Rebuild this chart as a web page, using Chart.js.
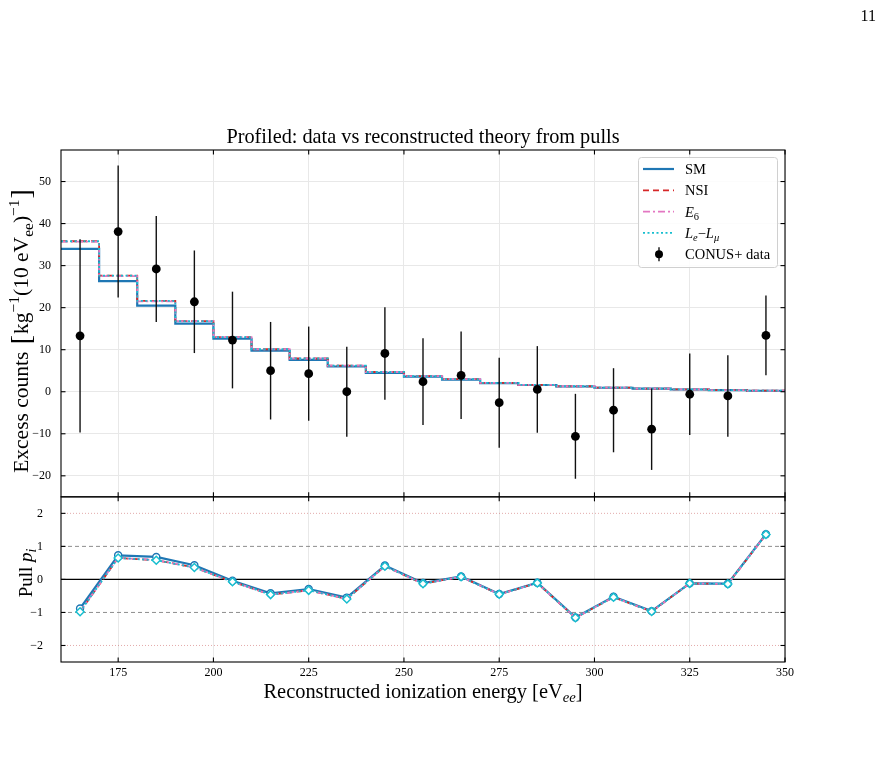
<!DOCTYPE html>
<html>
<head>
<meta charset="utf-8">
<script src="https://cdn.jsdelivr.net/npm/chart.js@4.4.1/dist/chart.umd.min.js"></script>
<style>
  html, body { margin: 0; padding: 0; background: #fff; }
</style>
</head>
<body>
<canvas id="pullChart" width="882" height="764"></canvas>
<script>
// 10 eVee bins, left edges + final right edge
const binEdges = [160, 170, 180, 190, 200, 210, 220, 230, 240, 250, 260, 270, 280, 290, 300, 310, 320, 330, 340, 350];
const binCenters = [165, 175, 185, 195, 205, 215, 225, 235, 245, 255, 265, 275, 285, 295, 305, 315, 325, 335, 345];

// reconstructed theory (excess counts per bin)
const smCounts    = [34.0, 26.3, 20.5, 16.2, 12.6, 9.8, 7.6, 6.0, 4.5, 3.6, 2.9, 2.05, 1.6, 1.25, 0.95, 0.72, 0.53, 0.38, 0.24];
const nsiCounts   = [35.8, 27.6, 21.6, 16.8, 13.0, 10.1, 7.9, 6.2, 4.7, 3.7, 3.0, 2.1, 1.65, 1.3, 1.0, 0.75, 0.55, 0.4, 0.25];
const e6Counts    = [35.7, 27.5, 21.5, 16.8, 13.0, 10.1, 7.9, 6.2, 4.7, 3.7, 3.0, 2.1, 1.65, 1.3, 1.0, 0.75, 0.55, 0.4, 0.25];
const lelmuCounts = [35.8, 27.6, 21.6, 16.8, 13.0, 10.1, 7.9, 6.2, 4.7, 3.7, 3.0, 2.1, 1.65, 1.3, 1.0, 0.75, 0.55, 0.4, 0.25];

// CONUS+ data points and 1 sigma errors
const dataCounts = [13.3, 38.1, 29.2, 21.4, 12.3, 5.0, 4.3, 0.0, 9.1, 2.4, 3.9, -2.6, 0.55, -10.6, -4.4, -8.9, -0.6, -1.0, 13.4];
const dataErrors = [23.0, 15.7, 12.6, 12.2, 11.5, 11.6, 11.2, 10.7, 11.0, 10.3, 10.4, 10.7, 10.3, 10.1, 10.0, 9.7, 9.7, 9.7, 9.5];

// pulls p_i
const smPulls    = [-0.88, 0.73, 0.68, 0.43, -0.04, -0.42, -0.29, -0.55, 0.42, -0.11, 0.09, -0.44, -0.10, -1.15, -0.52, -0.96, -0.12, -0.13, 1.37];
const nsiPulls   = [-0.98, 0.65, 0.58, 0.36, -0.07, -0.46, -0.33, -0.59, 0.40, -0.13, 0.08, -0.45, -0.11, -1.16, -0.54, -0.97, -0.12, -0.14, 1.36];
const e6Pulls    = [-0.97, 0.65, 0.59, 0.36, -0.07, -0.46, -0.33, -0.59, 0.40, -0.13, 0.08, -0.45, -0.11, -1.16, -0.54, -0.97, -0.12, -0.14, 1.36];
const lelmuPulls = [-0.98, 0.65, 0.58, 0.36, -0.07, -0.46, -0.33, -0.59, 0.40, -0.13, 0.08, -0.45, -0.11, -1.16, -0.54, -0.97, -0.12, -0.14, 1.36];

// tick values
const xTicks = [175, 200, 225, 250, 275, 300, 325, 350];
const countTicks = [-20, -10, 0, 10, 20, 30, 40, 50];
const pullTicks = [-2, -1, 0, 1, 2];
const pullGuides = [1, 2];

const SERIF = "'Liberation Serif', 'DejaVu Serif', serif";
const MINUS = '\u2212';

function stepPoints(values) {
    const pts = values.map((v, i) => ({ x: binEdges[i], y: v }));
    pts.push({ x: binEdges[binEdges.length - 1], y: values[values.length - 1] });
    return pts;
}
function points(values) {
    return values.map((v, i) => ({ x: binCenters[i], y: v }));
}
function tickText(v) {
    return v < 0 ? MINUS + Math.abs(v) : String(v);
}
function fixedTicks(list) {
    return s => { s.ticks = list.map(v => ({ value: v })); };
}

// draw text made of parts: {t, i (italic), sub, sup, big, gap}
function drawRich(ctx, parts, x, y, size, align) {
    const fontFor = p => {
        let s = size;
        if (p.sub || p.sup) s = size * 0.72;
        if (p.big) s = size * 1.3;
        return (p.i ? 'italic ' : '') + s + 'px ' + SERIF;
    };
    let total = 0;
    const widths = parts.map(p => {
        ctx.font = fontFor(p);
        const w = ctx.measureText(p.t).width + (p.gap || 0);
        total += w;
        return w;
    });
    let cx = x;
    if (align === 'center') cx = x - total / 2;
    if (align === 'right') cx = x - total;
    ctx.textAlign = 'left';
    ctx.textBaseline = 'alphabetic';
    parts.forEach((p, k) => {
        ctx.font = fontFor(p);
        let dy = 0;
        if (p.sub) dy = size * 0.22;
        if (p.sup) dy = -size * 0.42;
        if (p.big) dy = size * 0.08;
        ctx.fillText(p.t, cx, y + dy);
        cx += widths[k];
    });
}

function line(ctx, x1, y1, x2, y2) {
    ctx.beginPath();
    ctx.moveTo(x1, y1);
    ctx.lineTo(x2, y2);
    ctx.stroke();
}

// error bars under the data dots
const errorBars = {
    id: 'errorBars',
    beforeDatasetDraw(chart, args) {
        if (chart.data.datasets[args.index].label !== 'CONUS+ data') return;
        const { ctx, scales } = chart;
        ctx.save();
        ctx.strokeStyle = '#111';
        ctx.lineWidth = 1.4;
        binCenters.forEach((c, i) => {
            const px = scales.x.getPixelForValue(c);
            line(ctx, px, scales.y.getPixelForValue(dataCounts[i] + dataErrors[i]),
                px, scales.y.getPixelForValue(dataCounts[i] - dataErrors[i]));
        });
        ctx.restore();
    }
};

// reference lines in the pull panel
const pullLines = {
    id: 'pullLines',
    beforeDatasetsDraw(chart) {
        const { ctx, chartArea: a, scales } = chart;
        const ys = scales.yPull;
        ctx.save();
        pullGuides.forEach(g => {
            [g, -g].forEach(v => {
                const py = ys.getPixelForValue(v);
                if (g === 1) {
                    ctx.strokeStyle = '#808080';
                    ctx.lineWidth = 0.9;
                    ctx.setLineDash([4, 3]);
                } else {
                    ctx.strokeStyle = 'rgba(190,60,60,0.55)';
                    ctx.lineWidth = 0.8;
                    ctx.setLineDash([1, 2]);
                }
                line(ctx, a.left, py, a.right, py);
            });
        });
        ctx.setLineDash([]);
        ctx.strokeStyle = '#000';
        ctx.lineWidth = 1.2;
        const p0 = ys.getPixelForValue(0);
        line(ctx, a.left, p0, a.right, p0);
        ctx.restore();
    }
};

// frames, inward ticks, labels, legend
const decorations = {
    id: 'decorations',
    afterDraw(chart) {
        const { ctx, chartArea: a, scales, data } = chart;
        const xs = scales.x;
        ctx.save();
        ctx.strokeStyle = '#000';
        ctx.lineWidth = 1.1;
        [scales.y, scales.yPull].forEach(ys => {
            ctx.strokeRect(a.left, ys.top, a.right - a.left, ys.bottom - ys.top);
            ys.ticks.forEach(t => {
                const py = ys.getPixelForValue(t.value);
                line(ctx, a.left, py, a.left + 4.5, py);
                line(ctx, a.right - 4.5, py, a.right, py);
            });
            xs.ticks.forEach(t => {
                const px = xs.getPixelForValue(t.value);
                line(ctx, px, ys.top, px, ys.top + 4.5);
                line(ctx, px, ys.bottom - 4.5, px, ys.bottom);
            });
        });

        ctx.fillStyle = '#000';
        const cx = (a.left + a.right) / 2;
        drawRich(ctx, [{ t: 'Profiled: data vs reconstructed theory from pulls' }], cx, a.top - 7, 20.3, 'center');
        drawRich(ctx, [{ t: 'Reconstructed ionization energy [eV' }, { t: 'ee', i: 1, sub: 1 }, { t: ']' }],
            cx, a.bottom + 36, 20.4, 'center');
        drawRich(ctx, [{ t: '11' }], 876, 21, 16, 'right');

        ctx.save();
        ctx.translate(28, 331);
        ctx.rotate(-Math.PI / 2);
        drawRich(ctx, [{ t: 'Excess counts ', gap: 2 }, { t: '[', big: 1, gap: 1 }, { t: 'kg' }, { t: MINUS + '1', sup: 1 },
            { t: '(10 eV' }, { t: 'ee', sub: 1 }, { t: ')' }, { t: MINUS + '1', sup: 1, gap: 1 }, { t: ']', big: 1 }],
            0, 0, 21.5, 'center');
        ctx.restore();
        ctx.save();
        ctx.translate(32, 573);
        ctx.rotate(-Math.PI / 2);
        drawRich(ctx, [{ t: 'Pull ' }, { t: 'p', i: 1 }, { t: 'i', i: 1, sub: 1 }], 0, 0, 19, 'center');
        ctx.restore();

        // legend
        const bw = 139, bh = 110;
        const bx = a.right - 8 - bw, by = a.top + 7;
        ctx.fillStyle = 'rgba(255,255,255,0.85)';
        ctx.strokeStyle = '#d0d0d0';
        ctx.lineWidth = 1;
        ctx.beginPath();
        ctx.roundRect(bx + 0.5, by + 0.5, bw, bh, 3);
        ctx.fill();
        ctx.stroke();
        const entries = [
            { ds: 0, text: [{ t: 'SM' }] },
            { ds: 1, text: [{ t: 'NSI' }] },
            { ds: 2, text: [{ t: 'E', i: 1 }, { t: '6', sub: 1 }] },
            { ds: 3, text: [{ t: 'L', i: 1 }, { t: 'e', i: 1, sub: 1 }, { t: MINUS }, { t: 'L', i: 1 }, { t: '\u03bc', i: 1, sub: 1 }] },
            { ds: 4, text: [{ t: 'CONUS+ data' }] }
        ];
        entries.forEach((e, k) => {
            const ry = by + 12 + k * 21.3;
            const d = data.datasets[e.ds];
            if (e.ds < 4) {
                ctx.strokeStyle = d.borderColor;
                ctx.lineWidth = d.borderWidth;
                ctx.setLineDash(d.borderDash || []);
                line(ctx, bx + 5, ry, bx + 36, ry);
                ctx.setLineDash([]);
            } else {
                ctx.strokeStyle = '#111';
                ctx.lineWidth = 1.4;
                line(ctx, bx + 21, ry - 7, bx + 21, ry + 7);
                ctx.fillStyle = '#000';
                ctx.beginPath();
                ctx.arc(bx + 21, ry, 4, 0, Math.PI * 2);
                ctx.fill();
            }
            ctx.fillStyle = '#000';
            drawRich(ctx, e.text, bx + 47, ry + 5, 14.5, 'left');
        });
        ctx.restore();
    }
};

const tickFont = { family: SERIF, size: 12 };

new Chart(document.getElementById('pullChart'), {
    type: 'line',
    data: {
        datasets: [
            { label: 'SM', data: stepPoints(smCounts), yAxisID: 'y', stepped: true, borderColor: '#1f77b4', borderWidth: 2.2, pointRadius: 0, order: 6 },
            { label: 'NSI', data: stepPoints(nsiCounts), yAxisID: 'y', stepped: true, borderColor: '#d62728', borderWidth: 1.8, borderDash: [6, 4], pointRadius: 0, order: 5 },
            { label: 'E6', data: stepPoints(e6Counts), yAxisID: 'y', stepped: true, borderColor: '#e377c2', borderWidth: 1.8, borderDash: [7, 3, 2, 3], pointRadius: 0, order: 4 },
            { label: 'LeLmu', data: stepPoints(lelmuCounts), yAxisID: 'y', stepped: true, borderColor: '#17becf', borderWidth: 1.8, borderDash: [2, 2.5], pointRadius: 0, order: 3 },
            { label: 'CONUS+ data', data: points(dataCounts), yAxisID: 'y', showLine: false, pointRadius: 4.4, pointBackgroundColor: '#000', pointBorderWidth: 0, order: 0 },
            { label: 'SM pull', data: points(smPulls), yAxisID: 'yPull', borderColor: '#1f77b4', borderWidth: 2.2, pointRadius: 3.5, pointBackgroundColor: '#fff', pointBorderColor: '#1f77b4', pointBorderWidth: 1.4, order: 9 },
            { label: 'NSI pull', data: points(nsiPulls), yAxisID: 'yPull', borderColor: '#d62728', borderWidth: 1.8, borderDash: [6, 4], pointRadius: 0, order: 8 },
            { label: 'E6 pull', data: points(e6Pulls), yAxisID: 'yPull', borderColor: '#e377c2', borderWidth: 1.8, borderDash: [7, 3, 2, 3], pointRadius: 0, order: 7 },
            { label: 'LeLmu pull', data: points(lelmuPulls), yAxisID: 'yPull', borderColor: '#17becf', borderWidth: 1.8, borderDash: [2, 2.5], pointStyle: 'rectRot', pointRadius: 4, pointBackgroundColor: '#fff', pointBorderColor: '#17becf', pointBorderWidth: 1.5, order: 1 }
        ]
    },
    options: {
        responsive: false,
        animation: false,
        devicePixelRatio: 1,
        layout: { padding: { top: 150, right: 97, bottom: 0, left: 0 } },
        plugins: { legend: { display: false }, tooltip: { enabled: false } },
        scales: {
            x: {
                type: 'linear', min: 160, max: 350,
                afterFit(s) { s.height = 102; },
                afterBuildTicks: fixedTicks(xTicks),
                ticks: { padding: 4, maxRotation: 0, autoSkip: false, color: '#000', font: tickFont },
                grid: { color: '#e8e8e8', drawTicks: false },
                border: { display: false }
            },
            yPull: {
                type: 'linear', position: 'left', stack: 'panels', stackWeight: 1,
                min: -2.5, max: 2.5,
                afterFit(s) { s.width = 61; },
                afterBuildTicks: fixedTicks(pullTicks),
                ticks: { padding: 10, autoSkip: false, color: '#000', font: tickFont, callback: tickText },
                grid: { display: false },
                border: { display: false }
            },
            y: {
                type: 'linear', position: 'left', stack: 'panels', stackWeight: 2.1,
                min: -25, max: 57.5,
                afterFit(s) { s.width = 61; },
                afterBuildTicks: fixedTicks(countTicks),
                ticks: { padding: 10, autoSkip: false, color: '#000', font: tickFont, callback: tickText },
                grid: { color: '#e8e8e8', drawTicks: false },
                border: { display: false }
            }
        }
    },
    plugins: [errorBars, pullLines, decorations]
});
</script>
</body>
</html>
